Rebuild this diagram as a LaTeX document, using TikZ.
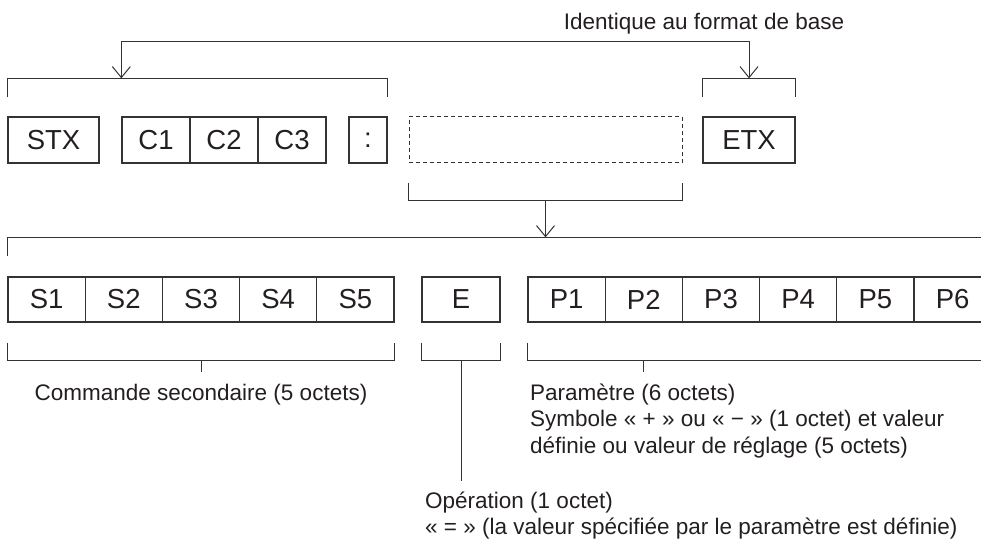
\documentclass[tikz,border=0pt]{standalone}
\usepackage{fontspec}
\setmainfont{Liberation Sans}
\usetikzlibrary{arrows.meta}
\definecolor{ink}{HTML}{333333}
\definecolor{textink}{HTML}{231F20}
\tikzset{cell/.style={draw=ink, line width=1.3pt, minimum height=45pt, inner sep=0pt, text=textink, font=\fontsize{27.5}{30}\selectfont}}
\tikzset{dashbox/.style={dash pattern=on 4pt off 3pt, line width=1pt}}
\tikzset{brk/.style={draw=ink, line width=1pt}}
\tikzset{barb/.style={-{Straight Barb[length=11pt,width=18pt]}}}
\tikzset{twobarb/.style={{Straight Barb[length=11pt,width=18pt]}-{Straight Barb[length=11pt,width=18pt]}}}
\tikzset{txt/.style={text=textink, inner sep=0pt, font=\fontsize{22.5}{26.4}\selectfont}}

\begin{document}
\begin{tikzpicture}[x=1pt,y=-1pt]
\useasboundingbox (0,0) rectangle (981,540);
\clip (0,0) rectangle (981,540);
\node[cell, minimum width=91pt, minimum height=46pt] (stx) at (53.5,140) {STX};
\foreach \i in {1,2,3}
  \node[cell, minimum width=68pt, minimum height=46pt] (c\i) at (88+68*\i,140) {C\i};
\node[cell, minimum width=38pt, minimum height=46pt] (colon) at (368,140) {:};
\node[cell, dashbox, minimum width=273pt, minimum height=46pt] (blank) at (545.5,140) {};
\node[cell, minimum width=92pt, minimum height=46pt] (etx) at (749,140) {ETX};
\foreach \i in {1,...,5}
  \node[cell, minimum width=77.2pt] (s\i) at (-30.6+77.2*\i,299.5) {S\i};
\node[cell, minimum width=78pt] (e) at (461,299.5) {E};
\foreach \i in {1,...,6}
  \node[cell, minimum width=77.2pt] (p\i) at (489.4+77.2*\i,299.5) {P\i};
\node[txt, anchor=base] (same) at (704,30) {Identique au format de base};
\draw[brk] ([yshift=19pt]stx.north west) -- ++(0,-19) -| ([yshift=19pt]colon.north east);
\draw[brk] ([yshift=19pt]etx.north west) -- ++(0,-19) -| ([yshift=19pt]etx.north east);
\draw[brk, twobarb] ([yshift=38pt]c1.north west) -- ++(0,-37) -| ([yshift=38pt]etx.north);
\draw[brk] ([yshift=-19pt]blank.south west) -- ++(0,18) -| ([yshift=-19pt]blank.south east);
\draw[brk, line width=1.3pt] ([yshift=20pt]s1.north west) -- ++(0,-19) -| ([yshift=20pt]p6.north east);
\draw[brk, barb] ([yshift=-37pt]blank.south) -- ([yshift=39pt]blank.south |- s1.north);
\draw[brk] ([yshift=-20pt]s1.south west) -- ++(0,18) -| ([yshift=-20pt]s5.south east);
\draw[brk] ([yshift=-38pt]s3.south) -- ++(0,11);
\draw[brk] ([yshift=-20pt]e.south west) -- ++(0,18) -| ([yshift=-20pt]e.south east);
\draw[brk] ([yshift=-20pt]p1.south west) -- ++(0,18) -| ([yshift=-20pt]p6.south east);
\draw[brk] ([yshift=-38pt]p2.south) -- ++(0,11);
\node[txt, anchor=base] (cmd) at (201,400) {Commande secondaire (5 octets)};
\node[txt, anchor=north west, align=left] (param) at (530,383.5) {Paramètre (6 octets)\\Symbole « + » ou « − » (1 octet) et valeur\\définie ou valeur de réglage (5 octets)};
\node[txt, anchor=north west, align=left] (op) at (425,491.5) {Opération (1 octet)\\« = » (la valeur spécifiée par le paramètre est définie)};
\draw[brk, shorten >=11pt] ([yshift=-38pt]e.south) -- (e.south |- op.north);
\end{tikzpicture}
\end{document}
